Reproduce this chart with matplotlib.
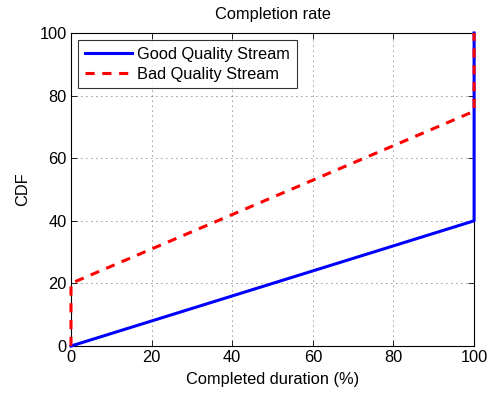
import matplotlib
matplotlib.use("Agg")
import matplotlib.pyplot as plt

plt.rcParams['font.family'] = ['Liberation Sans', 'DejaVu Sans']

# CDF curves: completed duration (%) vs cumulative share (%)
good_x = [0, 100, 100]
good_y = [0, 40, 100]
bad_x = [0, 0, 100, 100]
bad_y = [0, 20, 75, 100]

x_ticks = [0, 20, 40, 60, 80, 100]
y_ticks = [0, 20, 40, 60, 80, 100]

FS = 11.8

fig = plt.figure(figsize=(4.94, 3.95), dpi=100)
ax = fig.add_axes([0.1437, 0.124, 0.816, 0.7925])

ax.plot(good_x, good_y, color='#0000ff', lw=2.2, label='Good Quality Stream', clip_on=False, zorder=3)
ax.plot(bad_x, bad_y, color='#ff0000', lw=2.2, ls=(0, (3, 2.5)), label='Bad Quality Stream', clip_on=False, zorder=4)

ax.set_xlim(0, 100)
ax.set_ylim(0, 100)
ax.set_xticks(x_ticks)
ax.set_yticks(y_ticks)
ax.grid(True, color='#333333', ls=(0, (1, 5)), lw=0.6)
ax.tick_params(direction='in', top=True, right=True, labelsize=FS, length=4, width=0.6, pad=3)
for s in ax.spines.values():
    s.set_linewidth(0.8)

ax.set_xlabel('Completed duration (%)', fontsize=FS, labelpad=5)
ax.set_ylabel('CDF', fontsize=FS, labelpad=7)
ax.set_title('Completion rate', fontsize=FS, pad=10)

leg = ax.legend(loc='upper left', fontsize=FS, frameon=True, fancybox=False,
                edgecolor='black', borderaxespad=0.45, handlelength=2.9,
                borderpad=0.4, labelspacing=0.3, handletextpad=0.3)
leg.get_frame().set_linewidth(0.8)

fig.savefig('out.png', dpi=100)
